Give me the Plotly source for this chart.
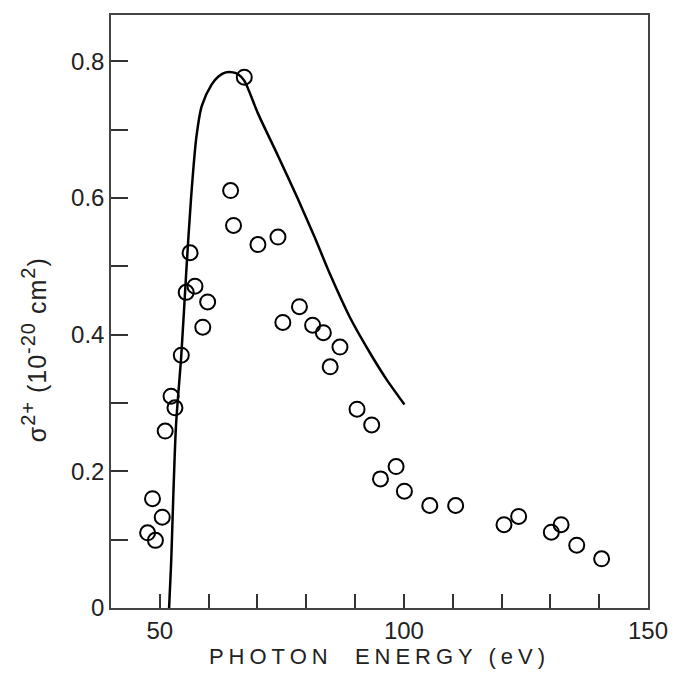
import plotly.graph_objects as go

# Measured points (photon energy eV, sigma 2+ in 1e-20 cm^2)
energy_pts = [47.5, 48.5, 49.1, 50.5, 51.1, 52.3, 53.1, 54.4, 55.4, 56.2, 57.2, 58.8, 59.8,
              64.5, 65.1, 67.3, 70.1, 74.2, 75.2, 78.6, 81.3, 83.5, 84.9, 86.9, 90.4, 93.4,
              95.2, 98.4, 100.1, 105.3, 110.6, 120.5, 123.5, 130.2, 132.2, 135.4, 140.5]
sigma_pts = [0.110, 0.160, 0.099, 0.133, 0.259, 0.310, 0.293, 0.370, 0.462, 0.520, 0.471, 0.411, 0.448,
             0.611, 0.560, 0.777, 0.532, 0.543, 0.418, 0.441, 0.414, 0.403, 0.353, 0.382, 0.291, 0.268,
             0.189, 0.207, 0.171, 0.150, 0.150, 0.122, 0.134, 0.111, 0.122, 0.092, 0.072]

# Theory curve
curve_energy = [51.9, 52.3, 53.3, 54.4, 55.4, 56.4, 57.5, 58.6, 60.6, 62.0, 63.5, 65.0, 66.1, 67.3,
                70.1, 74.2, 78.2, 81.7, 84.9, 88.9, 93.0, 96.4, 100.1]
curve_sigma = [0.0, 0.063, 0.265, 0.370, 0.490, 0.600, 0.690, 0.735, 0.766, 0.778, 0.784, 0.784, 0.781, 0.772,
               0.724, 0.662, 0.600, 0.543, 0.488, 0.426, 0.374, 0.335, 0.298]

x_tickvals = [50, 60, 70, 80, 90, 100, 110, 120, 130, 140, 150]
x_ticktext = ["50", "", "", "", "", "100", "", "", "", "", "150"]
y_tickvals = [0, 0.1, 0.2, 0.3, 0.4, 0.5, 0.6, 0.7, 0.8]
y_ticktext = ["0", "", "0.2", "", "0.4", "", "0.6", "", "0.8"]

FONT = "Liberation Sans, Arial, sans-serif"

fig = go.Figure()
fig.add_trace(go.Scatter(x=curve_energy, y=curve_sigma, mode="lines",
                         line=dict(color="black", width=2.5, shape="spline", smoothing=0.8),
                         showlegend=False, hoverinfo="skip"))
fig.add_trace(go.Scatter(x=energy_pts, y=sigma_pts, mode="markers",
                         marker=dict(symbol="circle-open", size=15, color="black",
                                     line=dict(width=2, color="black")),
                         showlegend=False))

ytitle = ('<span style="letter-spacing:1px">σ<sup><span style="font-size:20px">2+</span></sup>'
          ' (10<sup><span style="font-size:20px">-20</span></sup>'
          ' cm<sup><span style="font-size:20px">2</span></sup>)</span>')
xtitle = '<span style="letter-spacing:5px">PHOTON  ENERGY (eV)</span>'

fig.update_layout(
    width=680, height=673,
    margin=dict(l=111, r=25, t=15, b=56),
    paper_bgcolor="white", plot_bgcolor="white",
    font=dict(family=FONT, color="#222", size=20),
    xaxis=dict(range=[40, 150], tickvals=x_tickvals, ticktext=x_ticktext,
               ticks="inside", ticklen=14, tickwidth=1.5, tickcolor="#333",
               showline=True, linecolor="#444", linewidth=1.5, mirror=True,
               showgrid=False, zeroline=False,
               tickfont=dict(size=24),
               title=dict(text=xtitle, font=dict(size=22), standoff=2)),
    yaxis=dict(range=[0, 0.868], tickvals=y_tickvals, ticktext=y_ticktext,
               ticks="inside", ticklen=17, tickwidth=1.5, tickcolor="#333",
               showline=True, linecolor="#444", linewidth=1.5, mirror=True,
               showgrid=False, zeroline=False,
               tickfont=dict(size=24)),
    annotations=[dict(text=ytitle, textangle=-90, xref="paper", yref="paper",
                      x=-0.143, y=0.435, xanchor="center", yanchor="middle",
                      showarrow=False, font=dict(size=25, family=FONT, color="#222"))],
)

fig.write_html("out.html")
